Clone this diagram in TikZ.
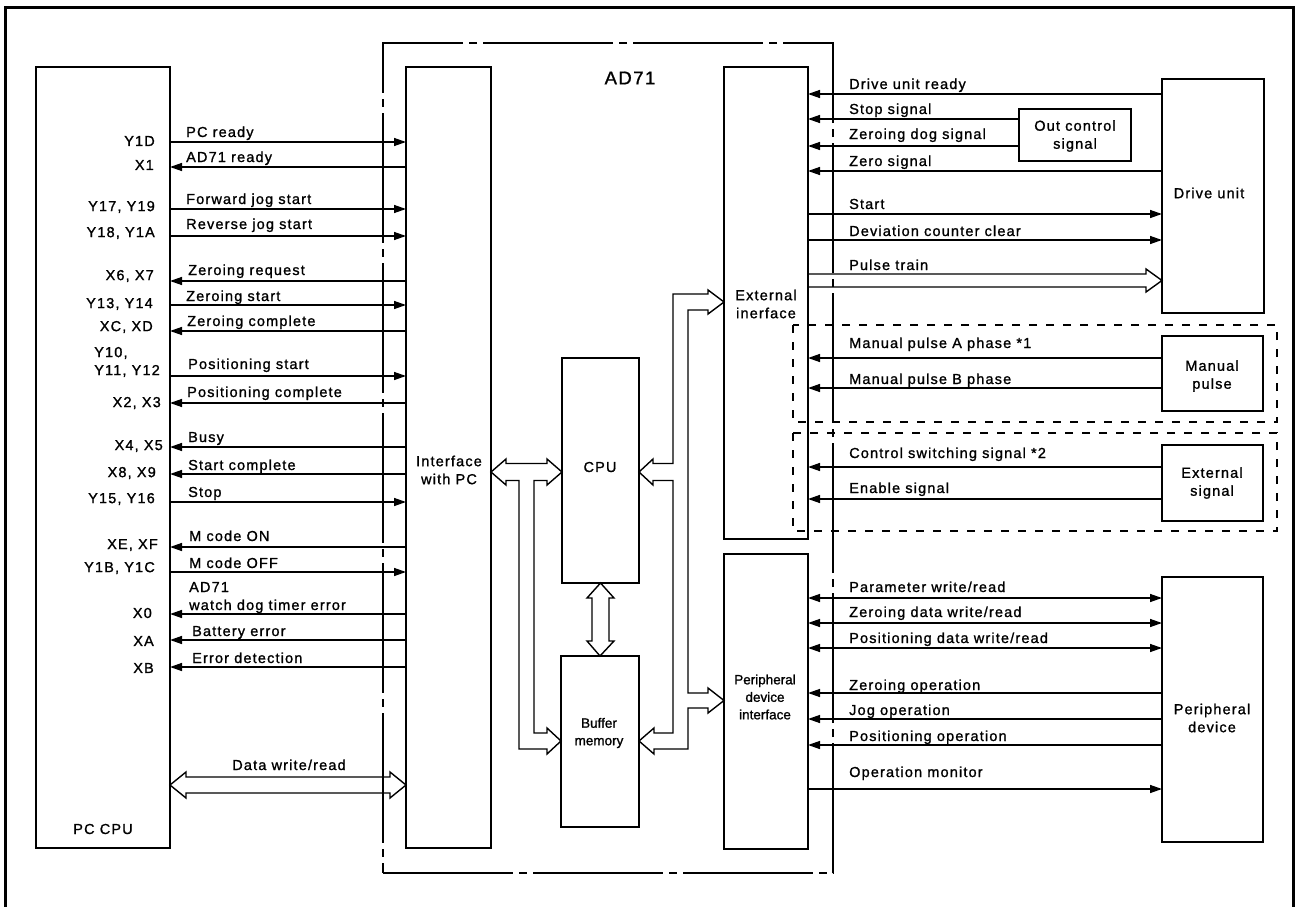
\documentclass[tikz,border=0pt]{standalone}
\usepackage{fontspec}
\setmainfont{Liberation Sans}
\newfontfamily\labfont{Liberation Sans}[LetterSpace=8, FakeBold=1.2]
\newfontfamily\smallfont{Liberation Sans}[FakeBold=1.2]
\usetikzlibrary{arrows.meta}
\newcommand\labf{\labfont\fontsize{14.5}{18}\selectfont}
\newcommand\smallf{\smallfont\fontsize{13.5}{17.5}\selectfont}
\tikzset{
  box/.style={draw, line width=1.5pt, inner sep=0pt, outer sep=0pt},
  sig/.style={line width=1.4pt},
  fw/.style={-{Triangle[length=12pt,width=8pt]}},
  bk/.style={{Triangle[length=12pt,width=8pt]}-},
  bi/.style={{Triangle[length=12pt,width=8pt]}-{Triangle[length=12pt,width=8pt]}},
  lab/.style={font=\labf, inner sep=0pt},
  blab/.style={font=\labf, inner sep=0pt, align=center},
  hollow/.style={line width=1.4pt, line join=miter},
  dashbox/.style={line width=1.4pt, dash pattern=on 8pt off 9pt},
}
% left signal: y, style, label x, label baseline, text
\newcommand\Lsig[5]{%
  \coordinate (l#1) at (0,#1);
  \draw[sig,#2] (pc.east |- l#1) -- (ifpc.west |- l#1);
  \node[lab,anchor=base west] (L#1) at (#3,#4) {#5};}
% right signal: y, from, to, style, label baseline, text
\newcommand\Rsig[6]{%
  \coordinate (r#1) at (0,#1);
  \draw[sig,#4] (#2 |- r#1) -- (#3 |- r#1);
  \node[lab,anchor=base west] (R#1) at (849,#5) {#6};}
% left port label: name, right x, centre y, text
\newcommand\Port[4]{\node[lab,anchor=east] (#1) at (#2,#3) {#4};}
\begin{document}
\begin{tikzpicture}[x=1pt,y=-1pt]
\useasboundingbox (0,0) rectangle (1298,907);
% outer frame (open at bottom)
\draw[line width=3pt] (5.5,907) -- (5.5,7.5) -- (1293,7.5) -- (1293,907);

% boxes
\node[box, minimum width=134, minimum height=781] (pc) at (103,457.5) {};
\node[draw, line width=1.4pt, dash pattern=on 130pt off 6pt on 8pt off 6pt, minimum width=450, minimum height=830, inner sep=0pt] (ad71) at (608,458) {};
\node[box, minimum width=85, minimum height=781] (ifpc) at (448.5,457.5) {};
\node[box, minimum width=84, minimum height=472] (ext) at (766,303) {};
\node[box, minimum width=84, minimum height=295] (pdi) at (766,701.5) {};
\node[box, minimum width=77, minimum height=225] (cpu) at (600.5,470.5) {};
\node[box, minimum width=78, minimum height=171] (buf) at (600,741.5) {};
\node[box, minimum width=102, minimum height=234] (drive) at (1213,196) {};
\node[box, minimum width=112, minimum height=52] (outc) at (1075,135) {};
\node[box, minimum width=101, minimum height=75] (manual) at (1212.5,373.5) {};
\node[box, minimum width=101, minimum height=76] (extsig) at (1212.5,483) {};
\node[box, minimum width=101, minimum height=265] (periph) at (1212.5,709.5) {};

% dashed option regions
\draw[dashbox] (793,325) rectangle (1277,422);
\draw[dashbox] (793,433) rectangle (1277,531);

% box texts
\node[font=\labfont\fontsize{18.5}{22}\selectfont, inner sep=0pt] (tad71) at (630,78) {AD71};
\node[blab] (tifpc) at (449,470) {Interface\\with PC};
\node[blab] (tcpu) at (600,467) {CPU};
\node[font=\smallf, inner sep=0pt, align=center] (tbuf) at (599,733) {Buffer\\memory};
\node[blab] (text) at (766,304) {External\\inerface};
\node[font=\smallf, inner sep=0pt, align=center] (tpdi) at (765,697) {Peripheral\\device\\interface};
\node[blab] (tpc) at (103,829) {PC CPU};
\node[blab] (tdrive) at (1209,193) {Drive unit};
\node[blab] (toutc) at (1075,136) {Out control\\signal};
\node[blab] (tmanual) at (1212,376) {Manual\\pulse};
\node[blab] (textsig) at (1212,483) {External\\signal};
\node[blab] (tperiph) at (1212,718) {Peripheral\\device};

% port labels on PC CPU
\Port{p1}{155}{141}{Y1D}
\Port{p2}{154}{165}{X1}
\Port{p3}{155}{207}{Y17, Y19}
\Port{p4}{155}{233}{Y18, Y1A}
\Port{p5}{154}{276}{X6, X7}
\Port{p6}{153}{304}{Y13, Y14}
\Port{p7}{153}{327}{XC, XD}
\node[lab,anchor=east,align=left] (p8) at (160,362) {Y10,\\Y11, Y12};
\Port{p9}{161}{403}{X2, X3}
\Port{p10}{163}{446}{X4, X5}
\Port{p11}{156}{473}{X8, X9}
\Port{p12}{155}{499}{Y15, Y16}
\Port{p13}{158}{545}{XE, XF}
\Port{p14}{155}{568}{Y1B, Y1C}
\Port{p15}{152}{613}{X0}
\Port{p16}{154}{641}{XA}
\Port{p17}{154}{668}{XB}

% left signals
\Lsig{142}{fw}{186}{137}{PC ready}
\Lsig{167}{bk}{186}{162}{AD71 ready}
\Lsig{209}{fw}{186}{204}{Forward jog start}
\Lsig{236}{fw}{186}{229}{Reverse jog start}
\Lsig{281}{bk}{188}{275}{Zeroing request}
\Lsig{305}{fw}{186}{301}{Zeroing start}
\Lsig{331}{bk}{187}{326}{Zeroing complete}
\Lsig{376}{fw}{188}{369}{Positioning start}
\Lsig{403}{bk}{187}{397}{Positioning complete}
\Lsig{447}{bk}{188}{442}{Busy}
\Lsig{474}{bk}{188}{470}{Start complete}
\Lsig{502}{fw}{188}{497}{Stop}
\Lsig{547}{bk}{189}{541}{M code ON}
\Lsig{572}{fw}{189}{568}{M code OFF}
\Lsig{614}{bk}{189}{610}{watch dog timer error}
\node[lab,anchor=base west] (Lad71) at (189,592) {AD71};
\Lsig{640}{bk}{192}{636}{Battery error}
\Lsig{667}{bk}{192}{663}{Error detection}

% data write/read bus
\draw[hollow] (pc.east |- 0,785) -- (186,772) -- (186,777) -- (390,777) -- (390,772)
  -- (ifpc.west |- 0,785) -- (390,798) -- (390,793) -- (186,793) -- (186,798) -- cycle;
\node[lab,anchor=base] (tdata) at (289,770) {Data write/read};

% interface <-> CPU, branch to buffer memory
\draw[hollow] (ifpc.east |- 0,472) -- (506,459) -- (506,463.5) -- (547,463.5) -- (547,459)
  -- (cpu.west |- 0,472) -- (547,485) -- (547,480.5) -- (534,480.5) -- (534,733)
  -- (547,733) -- (547,728) -- (buf.west |- 0,741) -- (547,754) -- (547,749)
  -- (519,749) -- (519,480.5) -- (506,480.5) -- (506,485) -- cycle;

% CPU <-> buffer memory
\draw[hollow] (cpu.south) -- (614,598) -- (609,598) -- (609,641) -- (614,641) -- (buf.north)
  -- (587,641) -- (592,641) -- (592,598) -- (587,598) -- cycle;

% external / peripheral interface bus
\draw[hollow] (ext.west |- 0,302) -- (708,314) -- (708,310) -- (688,310) -- (688,693)
  -- (708,693) -- (708,688) -- (pdi.west |- 0,700.5) -- (708,713) -- (708,708) -- (688,708)
  -- (688,749) -- (654,749) -- (654,754) -- (buf.east |- 0,741) -- (654,728) -- (654,733)
  -- (673,733) -- (673,480.5) -- (653,480.5) -- (653,485) -- (cpu.east |- 0,472)
  -- (653,459) -- (653,463.5) -- (673,463.5) -- (673,294) -- (708,294) -- (708,290) -- cycle;

% right signals
\Rsig{94}{drive.west}{ext.east}{fw}{89}{Drive unit ready}
\Rsig{119}{outc.west}{ext.east}{fw}{114}{Stop signal}
\Rsig{146}{outc.west}{ext.east}{fw}{139}{Zeroing dog signal}
\Rsig{171}{drive.west}{ext.east}{fw}{166}{Zero signal}
\Rsig{214}{ext.east}{drive.west}{fw}{209}{Start}
\Rsig{240}{ext.east}{drive.west}{fw}{236}{Deviation counter clear}
% pulse train (hollow)
\draw[hollow] (ext.east |- 0,274) -- (1146,274) -- (1146,269) -- (drive.west |- 0,280.5)
  -- (1146,292) -- (1146,287) -- (ext.east |- 0,287);
\node[lab,anchor=base west] (R274) at (849,270) {Pulse train};
\Rsig{358}{manual.west}{ext.east}{fw}{348}{Manual pulse A phase *1}
\Rsig{388}{manual.west}{ext.east}{fw}{384}{Manual pulse B phase}
\Rsig{467}{extsig.west}{ext.east}{fw}{458}{Control switching signal *2}
\Rsig{499}{extsig.west}{ext.east}{fw}{493}{Enable signal}
\Rsig{598}{pdi.east}{periph.west}{bi}{592}{Parameter write/read}
\Rsig{623}{pdi.east}{periph.west}{bi}{617}{Zeroing data write/read}
\Rsig{648}{pdi.east}{periph.west}{bi}{643}{Positioning data write/read}
\Rsig{693}{periph.west}{pdi.east}{fw}{690}{Zeroing operation}
\Rsig{719}{periph.west}{pdi.east}{fw}{715}{Jog operation}
\Rsig{745}{periph.west}{pdi.east}{fw}{741}{Positioning operation}
\Rsig{789}{pdi.east}{periph.west}{fw}{777}{Operation monitor}
\end{tikzpicture}
\end{document}
